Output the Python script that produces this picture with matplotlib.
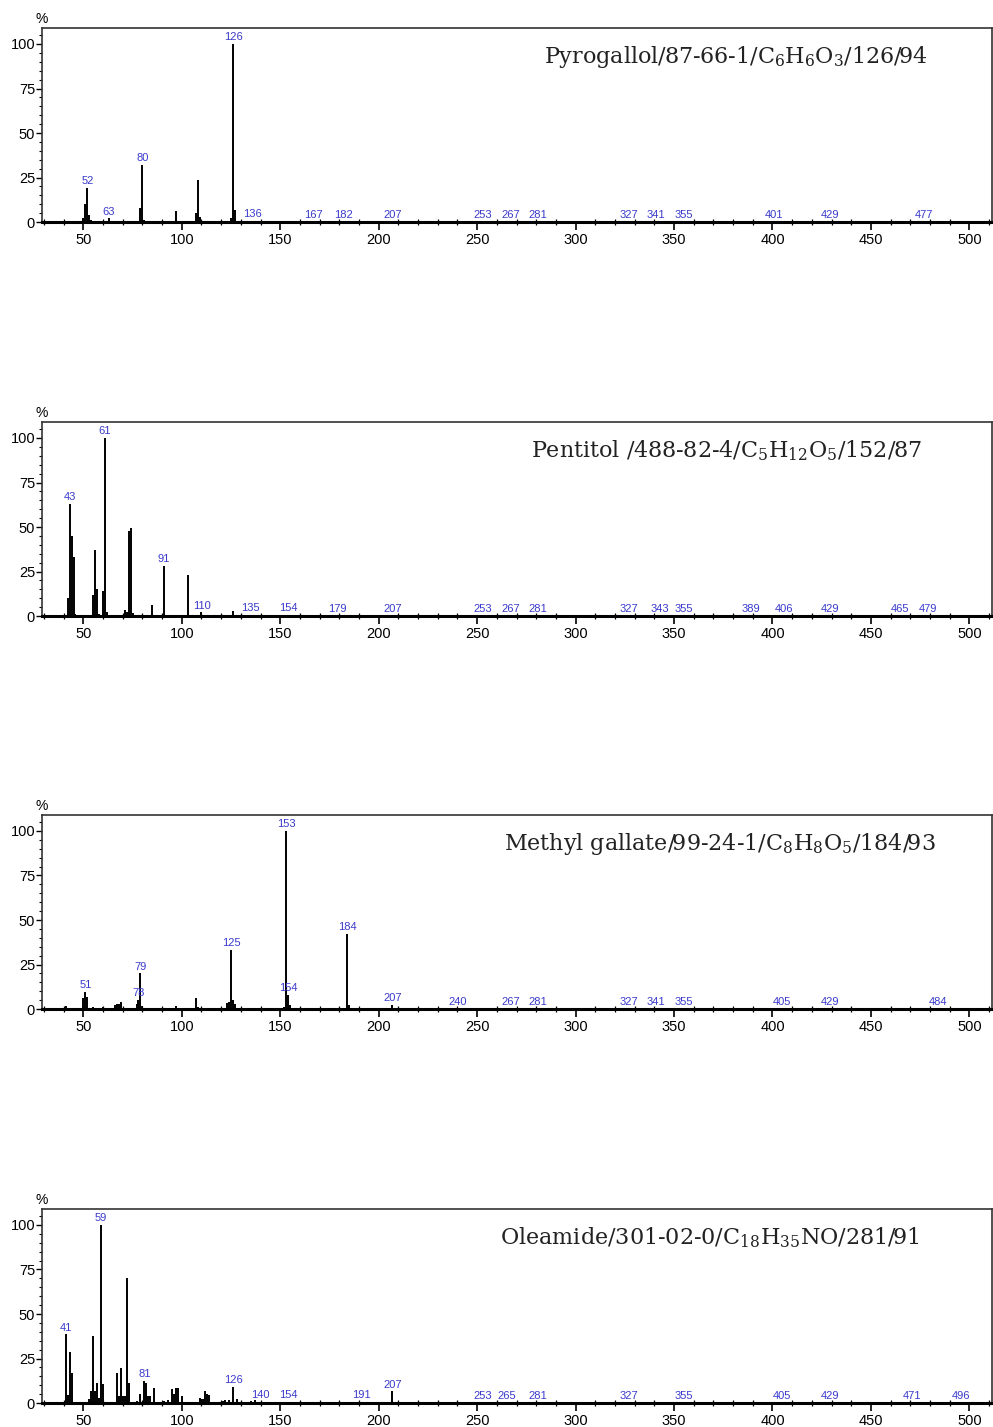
import matplotlib
matplotlib.use('Agg')
import matplotlib.pyplot as plt
from matplotlib.ticker import MultipleLocator

plt.rcParams.update({
    'font.family': 'Liberation Sans',
    'mathtext.fontset': 'dejavuserif',
    'mathtext.default': 'rm',
})

# ---- Pyrogallol ----
pyro_mz = [50, 51, 52, 53, 54, 63, 79, 80, 81, 97, 107, 108, 109, 125, 126, 127,
           136, 167, 182, 207, 253, 267, 281, 327, 341, 355, 401, 429, 477]
pyro_int = [2, 10, 19, 4, 1, 2, 8, 32, 1, 6, 5, 23.5, 3, 2, 100, 6.5,
            0.5, 0.4, 0.4, 0.4, 0.3, 0.3, 0.3, 0.3, 0.3, 0.3, 0.3, 0.3, 0.3]
pyro_lab = [52, 63, 80, 126, 136, 167, 182, 207, 253, 267, 281, 327, 341, 355,
            401, 429, 477]

# ---- Pentitol ----
pent_mz = [42, 43, 44, 45, 46, 55, 56, 57, 58, 60, 61, 62, 71, 72, 73, 74, 75,
           85, 91, 103, 110, 126, 135, 154, 179, 207, 253, 267, 281, 327, 343,
           355, 389, 406, 429, 465, 479]
pent_int = [10, 63, 45, 33, 1, 12, 37, 15, 1, 14, 100, 2.5, 3.5, 2, 47.5, 49.5, 1.5,
            6, 28, 23, 2, 2.8, 0.6, 0.5, 0.4, 0.4, 0.3, 0.3, 0.3, 0.3, 0.3,
            0.3, 0.3, 0.3, 0.3, 0.3, 0.3]
pent_lab = [43, 61, 91, 110, 135, 154, 179, 207, 253, 267, 281, 327, 343, 355,
            389, 406, 429, 465, 479]

# ---- Methyl gallate ----
mg_mz = [41, 50, 51, 52, 55, 60, 66, 67, 68, 69, 77, 78, 79, 80, 97, 107, 108,
         123, 124, 125, 126, 127, 152, 153, 154, 155, 184, 185, 207, 240, 267,
         281, 327, 341, 355, 405, 429, 484]
mg_int = [1.5, 6, 9.5, 6.5, 1, 1, 2, 3, 3, 4, 3, 5, 20, 1.5, 1.5, 6, 1,
          3.5, 4, 33, 5, 3, 1, 100, 8, 2, 42, 2, 2.5, 0.4, 0.3,
          0.3, 0.3, 0.3, 0.3, 0.3, 0.3, 0.3]
mg_lab = [51, 78, 79, 125, 153, 154, 184, 207, 240, 267, 281, 327, 341, 355,
          405, 429, 484]

# ---- Oleamide ----
ole_mz = [41, 42, 43, 44, 53, 54, 55, 56, 57, 58, 59, 60, 67, 68, 69, 70, 71, 72,
          73, 77, 79, 81, 82, 83, 84, 86, 91, 93, 95, 96, 97, 98, 100, 109, 110,
          111, 112, 113, 114, 121, 122, 124, 126, 128, 135, 137, 140, 154, 191,
          207, 253, 265, 281, 327, 355, 405, 429, 471, 496]
ole_int = [38.5, 4.5, 28.5, 17, 2.5, 7, 37.5, 6.5, 11.5, 3, 100, 10.5, 17, 4, 19.5,
           4, 4, 70, 11, 1, 5, 12.5, 11, 4, 4, 8.5, 1, 1.5, 8, 5, 8.5, 8.5, 4,
           3, 2, 2, 7, 5, 4.5, 1, 1.5, 1.5, 9, 2, 1, 1.5, 0.8, 0.6, 0.5,
           6.5, 0.4, 0.4, 0.4, 0.4, 0.3, 0.3, 0.3, 0.3, 0.3]
ole_lab = [41, 59, 81, 126, 140, 154, 191, 207, 253, 265, 281, 327, 355, 405,
           429, 471, 496]

titles = [
    r'Pyrogallol/87-66-1/C$_6$H$_6$O$_3$/126/94',
    r'Pentitol /488-82-4/C$_5$H$_{12}$O$_5$/152/87',
    r'Methyl gallate/99-24-1/C$_8$H$_8$O$_5$/184/93',
    r'Oleamide/301-02-0/C$_{18}$H$_{35}$NO/281/91',
]
title_x = [0.932, 0.926, 0.941, 0.924]

spectra = [
    (pyro_mz, pyro_int, pyro_lab),
    (pent_mz, pent_int, pent_lab),
    (mg_mz, mg_int, mg_lab),
    (ole_mz, ole_int, ole_lab),
]

fig = plt.figure(figsize=(9.93, 14.27), dpi=100)
fig.patch.set_facecolor('white')

# axes boxes (left, bottom, width, height) in figure fraction
bottoms = [0.8444, 0.5683, 0.2929, 0.0168]
height = 0.136
left, width = 0.0423, 0.9567

label_color = '#3a3acc'

for i, (mz, inten, labs) in enumerate(spectra):
    ax = fig.add_axes([left, bottoms[i], width, height])
    ax.vlines(mz, 0, inten, color='black', linewidth=1.4)

    # peak labels
    lookup = dict(zip(mz, inten))
    for m in labs:
        ax.text(m, lookup[m] + 1.0, str(m), ha='center', va='bottom',
                fontsize=8, color=label_color)

    ax.set_xlim(29, 511.5)
    ax.set_ylim(0, 109)
    ax.xaxis.set_minor_locator(MultipleLocator(10))
    ax.yaxis.set_major_locator(MultipleLocator(25))
    ax.yaxis.set_minor_locator(MultipleLocator(5))
    ax.set_xticks(range(50, 501, 50))
    ax.tick_params(axis='x', which='major', direction='out', length=6, width=1.2,
                   labelsize=10.5, pad=2)
    ax.tick_params(axis='x', which='minor', direction='inout', length=4, width=0.9)
    ax.tick_params(axis='y', which='major', direction='out', length=4, width=1,
                   labelsize=10.5, pad=1)
    ax.tick_params(axis='y', which='minor', direction='out', length=2.5, width=0.8)

    for side in ['top', 'left', 'right']:
        ax.spines[side].set_color('#333333')
        ax.spines[side].set_linewidth(1.2)
    ax.spines['bottom'].set_linewidth(2.2)
    ax.spines['bottom'].set_color('black')

    ax.text(0.0, 1.01, '%', transform=ax.transAxes, ha='center', va='bottom',
            fontsize=10)
    ax.text(title_x[i], 0.85, titles[i], transform=ax.transAxes, ha='right',
            va='center', fontsize=16, family='DejaVu Serif', color='#222222')

fig.savefig('out.png', dpi=100, facecolor='white')
